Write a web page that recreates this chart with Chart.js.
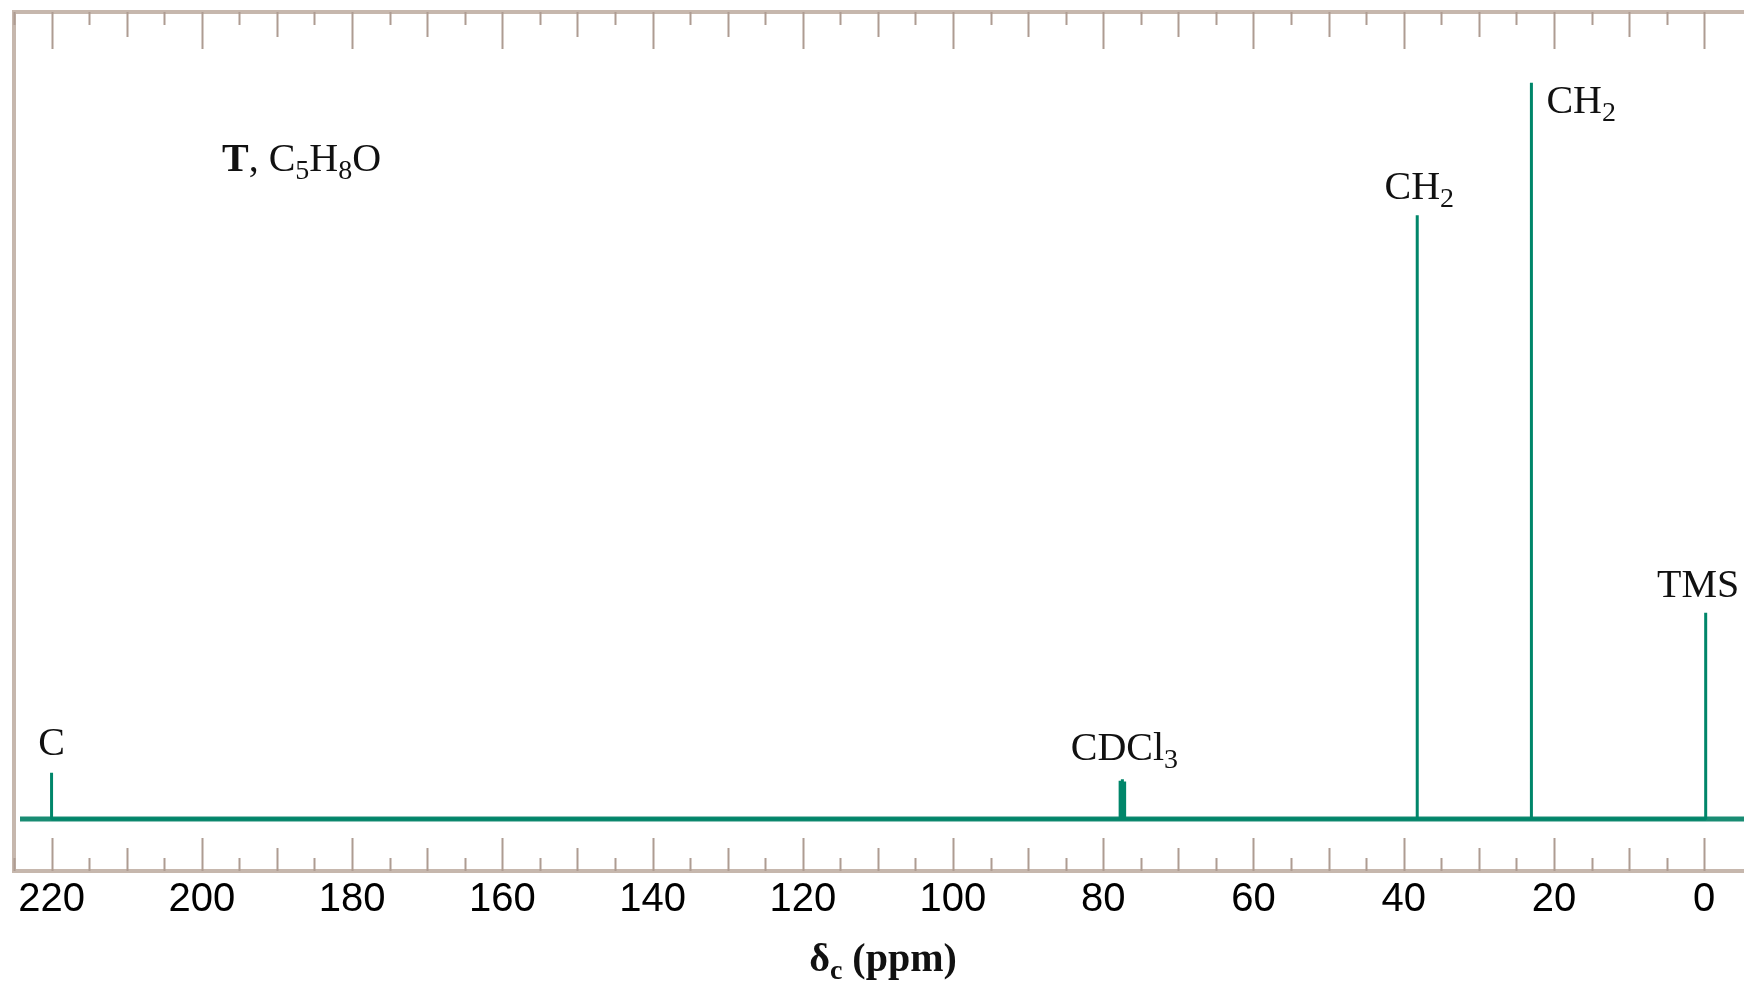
<!DOCTYPE html>
<html>
<head>
<meta charset="utf-8">
<title>13C NMR spectrum of T, C5H8O</title>
<script src="https://cdn.jsdelivr.net/npm/chart.js@4.4.1/dist/chart.umd.min.js"></script>
<style>
  html, body { margin: 0; padding: 0; background: #fff; }
  #wrap { width: 1744px; height: 985px; position: relative; }
</style>
</head>
<body>
<div id="wrap"><canvas id="nmrChart"></canvas></div>
<script>
// signals: chemical shift (ppm) and relative height (tallest CH2 = 100)
const peakShifts  = [220.0, 77.75, 77.45, 77.15, 38.2, 23.0, -0.2];
const peakHeights = [6.3, 5.2, 5.4, 5.1, 82.0, 100, 28.0];

// labelled signals ("_x" = subscript x)
const labelTexts   = ['C', 'CDCl_3', 'CH_2', 'CH_2', 'TMS'];
const labelShifts  = [220.0, 77.45, 38.2, 23.0, -0.2];
const labelHeights = [6.3, 5.4, 82.0, 100, 28.0];

const xTickLabels = [220, 200, 180, 160, 140, 120, 100, 80, 60, 40, 20, 0];
const xRange = [-5.3, 225];
const yRange = [-7.06, 109.6];
const baselineRange = [-5.3, 224.2];

// label offsets in px from the peak top (x, baseline y)
const labelPlace = [
    { dx: 0, dy: -18, align: 'center' },
    { dx: 2, dy: -19, align: 'center' },
    { dx: 2, dy: -16, align: 'center' },
    { dx: 15, dy: 30, align: 'left' },
    { dx: -7.5, dy: -16, align: 'center' }
];

const SERIF = '"Liberation Serif", "Times New Roman", serif';
const SANS = '"Liberation Sans", Arial, sans-serif';
const green = '#00866a';

// stick spectrum: up and down at each shift
const stickPoints = [];
peakShifts.forEach((p, i) => {
    stickPoints.push({ x: p, y: 0 }, { x: p, y: peakHeights[i] }, { x: p, y: 0 });
});
const baseline = [{ x: baselineRange[1], y: 0 }, { x: baselineRange[0], y: 0 }];

function parseRich(str, size, bold) {
    const w = bold ? 'bold ' : '';
    const segs = [];
    const parts = str.split('_');
    segs.push({ t: parts[0], font: w + size + 'px ' + SERIF, dy: 0 });
    for (let i = 1; i < parts.length; i++) {
        segs.push({ t: parts[i][0], font: w + Math.round(size * 0.7) + 'px ' + SERIF, dy: Math.round(size * 0.2) });
        if (parts[i].length > 1) segs.push({ t: parts[i].slice(1), font: w + size + 'px ' + SERIF, dy: 0 });
    }
    return segs;
}

function drawRich(ctx, segs, x, y, align) {
    let w = 0;
    segs.forEach(g => { ctx.font = g.font; w += ctx.measureText(g.t).width; });
    let cx = align === 'center' ? x - w / 2 : x;
    ctx.textAlign = 'left';
    ctx.textBaseline = 'alphabetic';
    segs.forEach(g => {
        ctx.font = g.font;
        ctx.fillText(g.t, cx, y + g.dy);
        cx += ctx.measureText(g.t).width;
    });
}

const framePlugin = {
    id: 'frame',
    beforeDatasetsDraw(chart) {
        const { ctx, chartArea: a, scales: { x } } = chart;
        ctx.save();
        ctx.strokeStyle = '#c6b7ad';
        ctx.lineWidth = 4;
        ctx.beginPath();
        ctx.moveTo(chart.width, a.top);
        ctx.lineTo(a.left, a.top);
        ctx.lineTo(a.left, a.bottom);
        ctx.lineTo(chart.width, a.bottom);
        ctx.stroke();

        ctx.strokeStyle = '#ae9c92';
        ctx.lineWidth = 2;
        for (let v = 0; v <= xRange[1]; v += 5) {
            const px = Math.round(x.getPixelForValue(v)) + 0.5;
            const big = v % 20 === 0, mid = v % 10 === 0;
            const lt = big ? 37 : mid ? 25 : 13;
            const lb = big ? 33 : mid ? 23 : 13;
            ctx.beginPath();
            ctx.moveTo(px, a.top);
            ctx.lineTo(px, a.top + lt);
            ctx.moveTo(px, a.bottom);
            ctx.lineTo(px, a.bottom - lb);
            ctx.stroke();
        }
        ctx.restore();
    },
    afterDraw(chart) {
        const { ctx, scales: { x, y } } = chart;
        ctx.save();
        ctx.fillStyle = '#111';
        labelTexts.forEach((t, i) => {
            const px = x.getPixelForValue(labelShifts[i]);
            const py = y.getPixelForValue(labelHeights[i]);
            const pl = labelPlace[i];
            drawRich(ctx, parseRich(t, 40, false), px + pl.dx, py + pl.dy, pl.align);
        });

        // compound name
        const nameSegs = [{ t: 'T', font: 'bold 40px ' + SERIF, dy: 0 }]
            .concat(parseRich(', C_5H_8O', 40, false));
        drawRich(ctx, nameSegs, 222, 171, 'left');

        // axis title
        const titleSegs = parseRich('δ_c (ppm)', 40, true);
        drawRich(ctx, titleSegs, 883, 971, 'center');
        ctx.restore();
    }
};

new Chart(document.getElementById('nmrChart'), {
    type: 'line',
    data: {
        datasets: [{
            data: stickPoints,
            borderColor: green,
            borderWidth: 3,
            borderJoinStyle: 'bevel',
            pointRadius: 0,
            tension: 0
        }, {
            data: baseline,
            borderColor: 'rgba(0, 128, 100, 0.9)',
            borderWidth: 5,
            pointRadius: 0
        }]
    },
    options: {
        responsive: true,
        maintainAspectRatio: false,
        animation: false,
        events: [],
        layout: { padding: { left: 14, top: 12, right: 0, bottom: 0 } },
        plugins: { legend: { display: false }, tooltip: { enabled: false } },
        scales: {
            x: {
                type: 'linear',
                reverse: true,
                min: xRange[0],
                max: xRange[1],
                afterBuildTicks: s => { s.ticks = xTickLabels.map(v => ({ value: v })); },
                afterFit: s => { s.height = 114; },
                grid: { display: false, drawTicks: false },
                border: { display: false },
                ticks: {
                    autoSkip: false,
                    maxRotation: 0,
                    padding: 5,
                    color: '#000',
                    font: { family: SANS, size: 40 },
                    callback: v => String(v)
                }
            },
            y: {
                display: false,
                min: yRange[0],
                max: yRange[1]
            }
        }
    },
    plugins: [framePlugin]
});
</script>
</body>
</html>
